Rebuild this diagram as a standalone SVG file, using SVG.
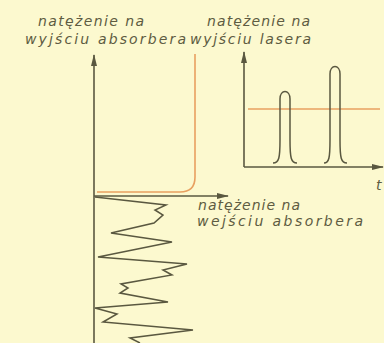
<svg xmlns="http://www.w3.org/2000/svg" width="384" height="343" viewBox="0 0 384 343">
<defs>
<style>
.ax{fill:none;stroke:#5a5840;stroke-width:1.6}
.cv{fill:none;stroke:#5a5840;stroke-width:1.5;stroke-linejoin:miter}
.or{fill:none;stroke:#e8a060;stroke-width:1.6}
.lb{font-family:"DejaVu Sans","Liberation Sans",sans-serif;font-style:italic;font-size:14px;fill:#5e5c42}
</style>
<marker id="ah" viewBox="0 0 12 8" refX="11" refY="4" markerWidth="12" markerHeight="8" markerUnits="userSpaceOnUse" orient="auto">
<path d="M0,1 L12,4 L0,7 Z" fill="#5a5840"/>
</marker>
</defs>
<rect width="384" height="343" fill="#fcf9cf"/>
<g id="connectors">
<line class="ax" x1="94" y1="343" x2="94" y2="55" marker-end="url(#ah)"/>
<line class="ax" x1="94" y1="196" x2="228" y2="196" marker-end="url(#ah)"/>
<line class="ax" x1="244" y1="167" x2="244" y2="52" marker-end="url(#ah)"/>
<line class="ax" x1="244" y1="167" x2="383" y2="167" marker-end="url(#ah)"/>
</g>
<g id="absorber-output">
<path class="or" d="M97,192 L180,192 Q195,192 195,177 L195,54"/>
</g>
<g id="laser-output">
<line class="or" x1="248" y1="109" x2="380" y2="109"/>
<path class="cv" d="M273,163 C279,163 280,158 280,140 L280,99 C280,89 290,89 290,99 L290,140 C290,158 291,163 297,163"/>
<path class="cv" d="M324,163 C329,163 330,158 330,140 L330,74 C330,64 340,64 340,74 L340,140 C340,158 341,163 347,163"/>
</g>
<g id="absorber-input">
<path class="cv" d="M95,197 L166,205 L155,210 L163,215 L154,223 L111,233 L172,242 L98,257 L187,264 L163,270 L172,275 L121,284 L128,288 L120,293 L168,302 L95,308 L117,314 L103,322 L193,330 L130,338 L140,343"/>
</g>
<g id="labels">
<text class="lb" x="38" y="26" textLength="106" lengthAdjust="spacing">natężenie na</text>
<text class="lb" x="25" y="44" textLength="161" lengthAdjust="spacing">wyjściu absorbera</text>
<text class="lb" x="207" y="26" textLength="103" lengthAdjust="spacing">natężenie na</text>
<text class="lb" x="190" y="44" textLength="121" lengthAdjust="spacing">wyjściu lasera</text>
<text class="lb" x="198" y="210" textLength="102" lengthAdjust="spacing">natężenie na</text>
<text class="lb" x="197" y="226" textLength="166" lengthAdjust="spacing">wejściu absorbera</text>
<text class="lb" x="376" y="190">t</text>
</g>
</svg>
